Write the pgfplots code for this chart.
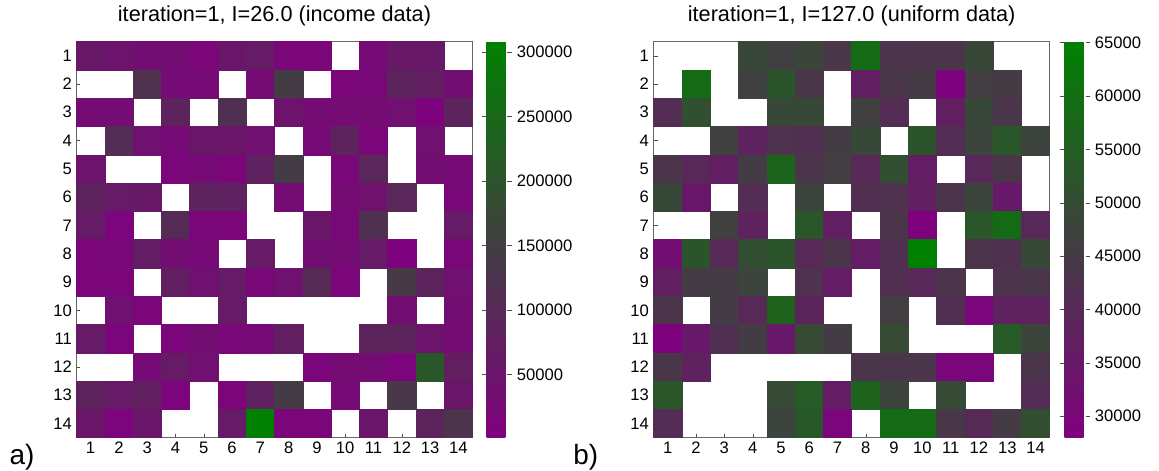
\documentclass[border=0pt]{standalone}
\usepackage{pgfplots}
\pgfplotsset{compat=1.18}
\usepackage{fontspec}
\setmainfont{Liberation Sans}
\pgfplotsset{
  every tick label/.append style={font=\fontsize{12.5}{14}\selectfont},
  colormap={pgw}{rgb255=(128,0,128) rgb255=(64,64,64) rgb255=(0,128,0)},
  heat/.style={
    scale only axis, width=298pt, height=298pt,
    xmin=0.5, xmax=14.5, ymin=0.5, ymax=14.5, y dir=reverse,
    xtick={1,...,14}, ytick={1,...,14},
    tick align=inside, xtick pos=bottom, ytick pos=left,
    major tick length=3pt, tick style={black!70},
    axis line style={black!60}, axis on top,
    title style={at={(0.5,1)}, anchor=base, yshift=9pt, font=\fontsize{16.3}{19}\selectfont},
    colorbar,
  },
}
\begin{document}
\pgfkeys{/pgf/number format/assume math mode=true, /pgf/number format/1000 sep={}}
\begin{tikzpicture}
\path[use as bounding box] (0,0) rectangle (869.25pt,354pt);
\begin{axis}[heat, at={(54.75pt,24.75pt)}, anchor=south west,
  title={iteration=1, I=26.0 (income data)},
  point meta min=1000, point meta max=308000,
  colorbar style={width=15.75pt, at={(parent axis.north east)}, anchor=north west, xshift=2pt,
    ytick={50000,100000,150000,200000,250000,300000},
    yticklabels={50000,100000,150000,200000,250000,300000},
    tick align=outside, major tick length=3.5pt,
    scaled y ticks=false, axis line style={draw=none}, tick style={black!70}}]
\addplot[scatter, only marks, mark=square*, mark size=10.643pt, point meta=explicit,
    scatter/use mapped color={draw=mapped color, fill=mapped color},
    mark options={line width=0.3pt}] coordinates {
(1,1)[60000] (2,1)[50000] (3,1)[35000] (4,1)[35000] (5,1)[15000] (6,1)[55000] (7,1)[65000] (8,1)[15000] (9,1)[15000] (11,1)[25000] (12,1)[60000] (13,1)[60000]
(3,2)[120000] (4,2)[25000] (5,2)[25000] (7,2)[30000] (8,2)[145000] (10,2)[15000] (11,2)[20000] (12,2)[85000] (13,2)[75000] (14,2)[35000]
(1,3)[30000] (2,3)[30000] (4,3)[85000] (6,3)[115000] (8,3)[50000] (9,3)[30000] (10,3)[30000] (11,3)[30000] (12,3)[40000] (13,3)[8000] (14,3)[85000]
(2,4)[110000] (3,4)[40000] (4,4)[25000] (5,4)[55000] (6,4)[55000] (7,4)[40000] (9,4)[25000] (10,4)[85000] (11,4)[15000] (13,4)[40000]
(1,5)[50000] (4,5)[12000] (5,5)[25000] (6,5)[15000] (7,5)[80000] (8,5)[145000] (10,5)[20000] (11,5)[95000] (13,5)[35000] (14,5)[25000]
(1,6)[85000] (2,6)[65000] (3,6)[60000] (5,6)[85000] (6,6)[80000] (8,6)[30000] (10,6)[30000] (11,6)[45000] (12,6)[95000] (14,6)[20000]
(1,7)[65000] (2,7)[10000] (4,7)[105000] (5,7)[15000] (6,7)[15000] (9,7)[55000] (10,7)[20000] (11,7)[115000] (14,7)[65000]
(1,8)[15000] (2,8)[20000] (3,8)[70000] (4,8)[35000] (5,8)[25000] (7,8)[65000] (9,8)[35000] (10,8)[30000] (11,8)[65000] (12,8)[5000] (14,8)[20000]
(1,9)[15000] (2,9)[15000] (4,9)[75000] (5,9)[40000] (6,9)[65000] (7,9)[20000] (8,9)[40000] (9,9)[105000] (10,9)[15000] (12,9)[140000] (13,9)[85000] (14,9)[40000]
(2,10)[40000] (3,10)[15000] (6,10)[65000] (12,10)[35000] (14,10)[35000]
(1,11)[65000] (2,11)[12000] (4,11)[15000] (5,11)[35000] (6,11)[20000] (7,11)[25000] (8,11)[75000] (11,11)[90000] (12,11)[85000] (13,11)[50000] (14,11)[30000]
(3,12)[25000] (4,12)[65000] (5,12)[40000] (9,12)[12000] (10,12)[30000] (11,12)[30000] (12,12)[10000] (13,12)[210000] (14,12)[75000]
(1,13)[85000] (2,13)[65000] (3,13)[75000] (4,13)[10000] (6,13)[15000] (7,13)[80000] (8,13)[145000] (10,13)[25000] (12,13)[135000] (14,13)[55000]
(1,14)[55000] (2,14)[10000] (3,14)[55000] (6,14)[65000] (7,14)[305000] (8,14)[15000] (9,14)[15000] (11,14)[55000] (13,14)[90000] (14,14)[125000]
};
\end{axis}
\begin{axis}[heat, at={(489pt,24.75pt)}, anchor=south west,
  title={iteration=1, I=127.0 (uniform data)},
  point meta min=28000, point meta max=65100,
  colorbar style={width=15.75pt, at={(parent axis.north east)}, anchor=north west, xshift=2.7pt,
    ytick={30000,35000,40000,45000,50000,55000,60000,65000},
    yticklabels={30000,35000,40000,45000,50000,55000,60000,65000},
    tick align=outside, major tick length=3.5pt,
    scaled y ticks=false, axis line style={draw=none}, tick style={black!70}}]
\addplot[scatter, only marks, mark=square*, mark size=10.643pt, point meta=explicit,
    scatter/use mapped color={draw=mapped color, fill=mapped color},
    mark options={line width=0.3pt}] coordinates {
(4,1)[48800] (5,1)[46500] (6,1)[48000] (7,1)[44000] (8,1)[59000] (9,1)[43000] (10,1)[43500] (11,1)[43500] (12,1)[48500]
(2,2)[59000] (4,2)[46500] (5,2)[52500] (6,2)[44000] (8,2)[37000] (9,2)[44000] (10,2)[45000] (11,2)[28500] (12,2)[46000] (13,2)[45000]
(1,3)[41000] (2,3)[51000] (5,3)[49000] (6,3)[49000] (8,3)[46500] (9,3)[41000] (11,3)[37000] (12,3)[49000] (13,3)[43500]
(3,4)[46500] (4,4)[38000] (5,4)[42500] (6,4)[41500] (7,4)[45500] (8,4)[49000] (10,4)[52500] (11,4)[41000] (12,4)[47500] (13,4)[53000] (14,4)[47500]
(1,5)[43500] (2,5)[39500] (3,5)[37000] (4,5)[45500] (5,5)[57000] (6,5)[43500] (7,5)[46000] (8,5)[40000] (9,5)[50500] (10,5)[36000] (12,5)[39500] (13,5)[44000]
(1,6)[49000] (2,6)[35000] (4,6)[41000] (6,6)[47500] (8,6)[41500] (9,6)[42500] (10,6)[37000] (11,6)[43500] (12,6)[47500] (13,6)[35000]
(3,7)[46500] (4,7)[38000] (6,7)[53000] (7,7)[37000] (9,7)[43500] (10,7)[28500] (12,7)[53000] (13,7)[59000] (14,7)[39500]
(1,8)[32000] (2,8)[52500] (3,8)[40000] (4,8)[50500] (5,8)[52500] (6,8)[40000] (7,8)[43500] (8,8)[36000] (9,8)[41500] (10,8)[65000] (12,8)[43500] (13,8)[42000] (14,8)[49000]
(1,9)[37000] (2,9)[45500] (3,9)[45500] (4,9)[47500] (6,9)[42500] (7,9)[36000] (9,9)[41500] (10,9)[39500] (11,9)[43500] (13,9)[43000] (14,9)[44000]
(1,10)[43500] (3,10)[45500] (4,10)[40000] (5,10)[56500] (6,10)[39000] (9,10)[46000] (11,10)[42000] (12,10)[29500] (13,10)[38000] (14,10)[38000]
(1,11)[28500] (2,11)[35000] (3,11)[42000] (4,11)[45500] (5,11)[35000] (6,11)[49500] (7,11)[45500] (9,11)[49500] (13,11)[54000] (14,11)[48000]
(1,12)[44000] (2,12)[38000] (8,12)[43500] (9,12)[43500] (10,12)[43500] (11,12)[30000] (12,12)[30000] (14,12)[43500]
(1,13)[53000] (5,13)[49500] (6,13)[54000] (7,13)[36000] (8,13)[56500] (9,13)[47500] (11,13)[49500] (14,13)[41000]
(1,14)[41000] (5,14)[47500] (6,14)[53500] (7,14)[29500] (9,14)[59000] (10,14)[59000] (11,14)[44000] (12,14)[40500] (13,14)[45000] (14,14)[50500]
};
\end{axis}
\node[anchor=base west, font=\fontsize{21}{24}\selectfont] at (1pt,4.5pt) {a)};
\node[anchor=base west, font=\fontsize{21}{24}\selectfont] at (425pt,4.5pt) {b)};
\end{tikzpicture}
\end{document}
